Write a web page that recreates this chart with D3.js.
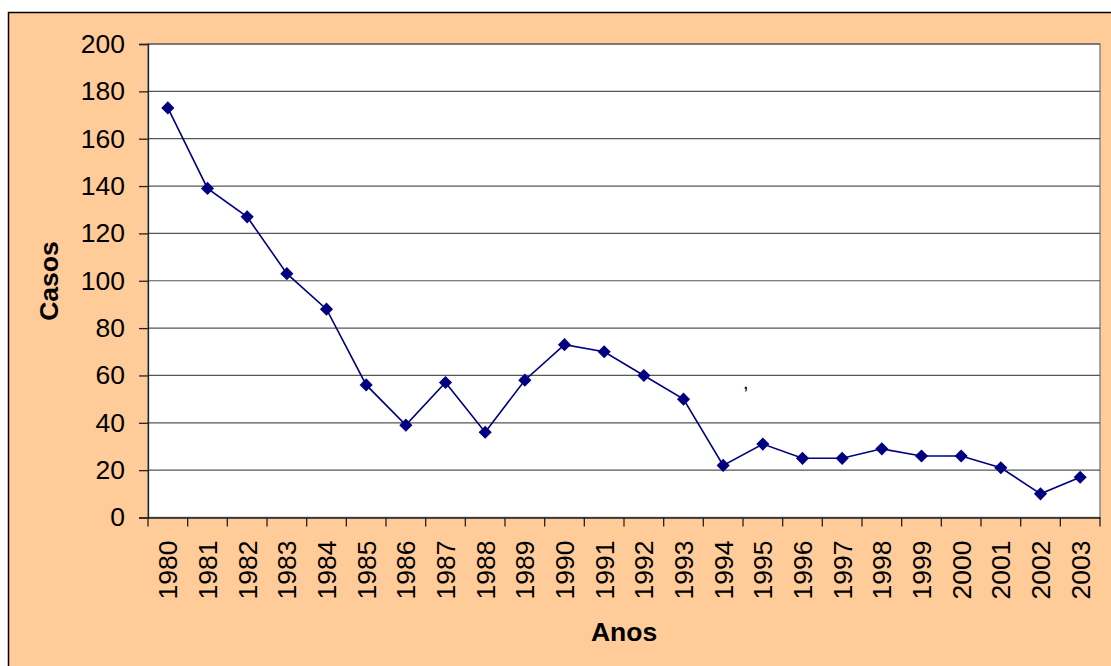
<!DOCTYPE html>
<html>
<head>
<meta charset="utf-8">
<script src="https://cdn.jsdelivr.net/npm/d3@7"></script>
<style>
  body { margin: 0; background: #fff; }
  text { font-family: "Liberation Sans", Arial, sans-serif; }
</style>
</head>
<body>
<div id="chart"></div>
<script>
const years = ['1980','1981','1982','1983','1984','1985','1986','1987','1988','1989','1990','1991',
  '1992','1993','1994','1995','1996','1997','1998','1999','2000','2001','2002','2003']
const casos = [173,139,127,103,88,56,39,57,36,58,73,70,60,50,22,31,25,25,29,26,26,21,10,17]
const yTicks = [0,20,40,60,80,100,120,140,160,180,200]

const dimensions = {
    width: 1111,
    height: 666,
    margin: { left: 148, right: 11, top: 44, bottom: 148.5 }
}
dimensions.ctrWidth = dimensions.width - dimensions.margin.left - dimensions.margin.right
dimensions.ctrHeight = dimensions.height - dimensions.margin.top - dimensions.margin.bottom

const fontSize = 26.5

const svg = d3.select('#chart')
    .append('svg')
    .attr('width', dimensions.width)
    .attr('height', dimensions.height)

// peach chart area with black frame
svg.append('rect')
    .attr('x', 8.5).attr('y', 12.5)
    .attr('width', 1120).attr('height', 660)
    .attr('fill', '#ffcc99')
    .attr('stroke', '#000')
    .attr('stroke-width', 1.5)

const ctr = svg.append('g')
    .attr('transform', `translate(${dimensions.margin.left},${dimensions.margin.top})`)

const xScale = d3.scaleBand().domain(years).range([0, dimensions.ctrWidth])
const yScale = d3.scaleLinear().domain([0, 200]).range([dimensions.ctrHeight, 0])

// plot area
ctr.append('rect')
    .attr('width', dimensions.ctrWidth)
    .attr('height', dimensions.ctrHeight)
    .attr('fill', '#fff')
    .attr('stroke', '#888')
    .attr('stroke-width', 1.5)

// gridlines
ctr.append('g')
    .selectAll('line')
    .data(yTicks.filter(d => d > 0))
    .join('line')
    .attr('x1', 0).attr('x2', dimensions.ctrWidth)
    .attr('y1', d => yScale(d)).attr('y2', d => yScale(d))
    .attr('stroke', '#555')
    .attr('stroke-width', 1.2)

// y axis
const yAxis = d3.axisLeft(yScale).tickValues(yTicks).tickSize(9).tickPadding(14)
const yG = ctr.append('g').call(yAxis)
yG.selectAll('path, line').attr('stroke', '#222').attr('stroke-width', 1.3)
yG.selectAll('text').attr('font-size', fontSize).attr('fill', '#000')
    .attr('font-family', '"Liberation Sans", Arial, sans-serif')

// x axis
const xAxis = d3.axisBottom(xScale).tickSize(9).tickSizeOuter(0)
const xG = ctr.append('g')
    .attr('transform', `translate(0,${dimensions.ctrHeight})`)
    .call(xAxis)
xG.selectAll('path, line').attr('stroke', '#222').attr('stroke-width', 1.3)
// ticks at band edges
xG.selectAll('.tick line').attr('x1', -xScale.bandwidth()/2).attr('x2', -xScale.bandwidth()/2)
xG.append('line')
    .attr('x1', dimensions.ctrWidth).attr('x2', dimensions.ctrWidth)
    .attr('y1', 0).attr('y2', 9)
    .attr('stroke', '#222').attr('stroke-width', 1.3)
xG.selectAll('.tick text')
    .attr('font-size', fontSize).attr('fill', '#000')
    .attr('font-family', '"Liberation Sans", Arial, sans-serif')
    .attr('transform', 'rotate(-90)')
    .attr('text-anchor', 'end')
    .attr('x', -23).attr('y', 0).attr('dy', '0.36em')

// line + markers
const line = d3.line()
    .x((d, i) => xScale(years[i]) + xScale.bandwidth()/2)
    .y(d => yScale(d))

ctr.append('path')
    .datum(casos)
    .attr('d', line)
    .attr('fill', 'none')
    .attr('stroke', '#000080')
    .attr('stroke-width', 1.6)

ctr.append('g')
    .selectAll('path')
    .data(casos)
    .join('path')
    .attr('d', d3.symbol(d3.symbolDiamond2, 110))
    .attr('transform', (d, i) => `translate(${xScale(years[i]) + xScale.bandwidth()/2},${yScale(d)})`)
    .attr('fill', '#000080')

// axis titles
svg.append('text')
    .attr('transform', 'translate(58,281) rotate(-90)')
    .attr('text-anchor', 'middle')
    .attr('font-size', fontSize).attr('font-weight', 'bold')
    .text('Casos')

svg.append('text')
    .attr('x', 624).attr('y', 641)
    .attr('text-anchor', 'middle')
    .attr('font-size', fontSize).attr('font-weight', 'bold')
    .text('Anos')

// stray comma in the original
svg.append('text')
    .attr('x', 743).attr('y', 389)
    .attr('font-size', 20)
    .attr('font-family', '"Liberation Serif", serif')
    .text(',')
</script>
</body>
</html>
